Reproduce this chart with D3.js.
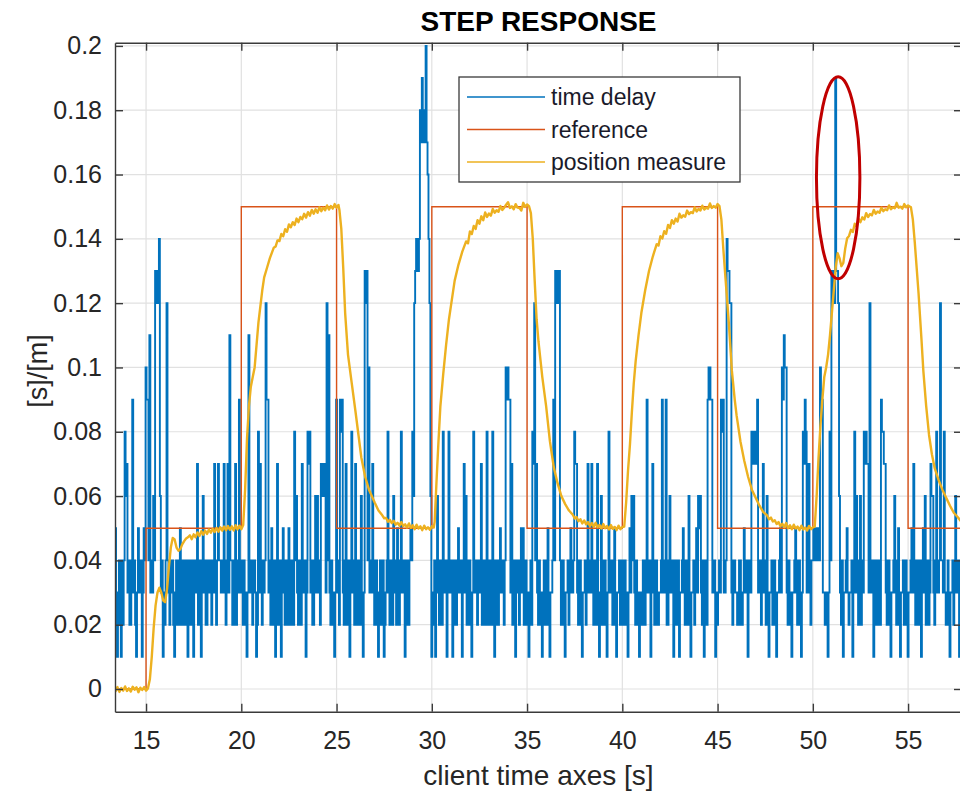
<!DOCTYPE html>
<html>
<head>
<meta charset="utf-8">
<script src="https://cdn.jsdelivr.net/npm/d3@7"></script>
<style>
  body { margin: 0; background: #fff; }
  text { font-family: "Liberation Sans", Arial, sans-serif; }
</style>
</head>
<body>
<svg id="chart" width="960" height="796"></svg>
<script>
// ---- data ----
const xTicks = [15, 20, 25, 30, 35, 40, 45, 50, 55];
const yTicks = [0, 0.02, 0.04, 0.06, 0.08, 0.1, 0.12, 0.14, 0.16, 0.18, 0.2];

// time delay, sampled every 0.05 s from 13.3 s, in hundredths of a second
// (one row per second of client time)
const delayStart = 13.3;
const delayStep = 0.05;
const delayCs = [
  4,3,5,2,1,3,4,2,1,4,2,4,8,6,
  7,3,4,2,2,4,9,3,4,2,1,3,5,4,3,4,1,3,5,4,
  10,9,9,4,11,3,4,3,6,4,13,12,13,12,14,6,3,4,1,3,
  2,4,12,4,3,2,4,3,4,2,1,3,4,2,2,4,5,2,3,4,
  2,3,4,2,1,4,3,2,4,4,1,3,4,3,7,2,3,4,1,3,
  6,3,4,2,2,4,4,3,4,2,3,4,7,3,2,4,7,4,4,3,
  3,4,7,3,2,4,7,3,11,4,4,2,2,4,7,2,3,4,9,3,
  4,3,2,4,3,2,1,3,11,4,3,4,2,4,4,3,1,2,8,3,
  7,3,2,4,3,4,12,9,9,3,4,2,5,2,2,4,1,3,7,2,
  3,4,1,3,5,3,2,4,3,2,5,2,2,4,3,2,8,4,6,3,
  2,4,4,2,7,3,3,4,1,3,8,7,8,3,4,2,2,4,6,3,
  6,3,4,2,7,6,6,7,7,3,12,4,11,3,2,4,3,2,1,3,
  9,3,4,2,9,8,9,3,2,4,7,2,3,4,1,3,8,3,4,2,
  7,3,2,4,4,2,6,3,1,3,13,12,13,4,10,3,3,4,7,3,
  2,4,4,2,1,3,4,2,2,4,1,2,3,4,8,3,2,4,4,2,
  6,3,4,2,5,3,2,4,8,3,3,4,1,3,4,2,2,4,5,4,
  8,6,12,13,14,13,13,14,18,17,19,18,17,18,20,17,16,14,12,6,
  1,2,3,4,1,3,6,3,2,4,4,2,8,3,3,4,1,3,8,4,
  3,4,1,3,4,2,2,4,5,3,3,4,1,3,7,3,6,2,2,4,
  4,2,1,3,8,3,3,4,2,3,4,3,7,2,2,4,3,2,8,3,
  2,4,3,2,8,4,1,3,4,2,2,4,5,3,3,4,2,4,10,9,
  10,9,9,3,7,2,3,4,1,3,4,3,2,4,5,3,5,2,2,4,
  3,2,1,3,4,2,8,7,12,4,7,3,2,4,3,2,1,3,4,2,
  2,4,5,2,1,3,3,4,9,4,13,12,12,13,13,4,2,3,4,2,
  1,3,3,4,2,3,5,3,3,4,8,7,7,3,2,4,4,2,1,3,
  3,4,2,3,7,3,3,4,7,3,2,4,4,2,7,3,1,3,6,2,
  2,4,4,2,1,3,8,3,3,4,2,3,5,2,1,3,3,4,2,3,
  4,2,2,4,3,2,1,3,5,3,6,4,6,3,2,4,3,2,1,3,
  3,2,4,3,2,4,9,3,3,4,1,3,7,3,2,4,4,2,2,3,
  3,4,9,3,4,3,9,2,2,4,6,3,3,4,1,3,4,2,2,4,
  1,3,3,4,5,3,2,4,4,2,6,3,1,3,3,4,2,3,5,3,
  6,5,6,3,2,4,1,3,4,2,9,10,10,9,9,3,3,4,1,3,
  2,3,4,3,9,8,9,3,3,4,14,13,13,12,12,3,2,4,4,3,
  3,2,2,4,4,2,2,3,5,3,3,4,1,3,4,3,8,7,7,8,
  8,7,9,3,3,4,2,3,7,3,4,2,6,3,1,3,3,4,2,3,
  4,2,1,3,3,4,5,3,10,9,11,10,10,3,2,4,3,2,1,3,
  3,4,5,3,2,4,4,2,1,3,8,7,9,8,3,4,7,3,2,4,
  4,5,5,4,4,5,5,4,10,9,9,3,3,2,2,3,1,3,8,4,
  13,12,13,12,19,13,13,12,6,3,2,4,1,3,3,4,5,3,2,3,
  3,4,1,3,8,3,6,3,2,4,6,2,4,3,8,7,8,7,7,3,
  12,3,3,4,1,3,4,2,2,4,3,2,9,8,8,7,7,3,2,4,
  4,2,1,3,3,4,6,3,2,4,5,2,1,3,3,4,2,3,4,2,
  1,3,3,4,5,3,7,3,2,4,4,2,3,4,1,3,5,3,6,2,
  3,4,2,3,7,6,6,3,2,4,8,3,3,4,12,4,4,3,8,3,
  2,3,4,2,1,3,3,4,2,3,6,3,3,4,1,3,4,2,2,3
];

// reference set-point: level held from each edge to the next
const refEdges  = [13.3, 15, 20, 25, 30, 35, 40, 45, 50, 55, 58];
const refLevels = [0, 0.05, 0.15, 0.05, 0.15, 0.05, 0.15, 0.05, 0.15, 0.05, 0.05];

// measured position [time s, value m]
const position = [
  [13.3,0.0004],[13.4,-0.0007],[13.5,0.0006],[13.6,-0.0009],[13.7,0.0003],[13.8,-0.0005],[13.9,0.0008],
  [14.0,-0.0006],[14.1,0.0002],[14.2,-0.0008],[14.3,0.0007],[14.4,-0.0002],[14.5,0.0005],[14.6,-0.0010],
  [14.7,0.0004],[14.8,-0.0003],[14.9,0.0006],[15.0,-0.0005],[15.1,0.0002],
  [15.2,0.003],[15.3,0.010],[15.4,0.019],[15.5,0.026],[15.6,0.030],[15.7,0.0315],[15.8,0.030],
  [15.9,0.0275],[16.0,0.027],[16.1,0.031],[16.2,0.038],[16.3,0.044],[16.4,0.047],[16.5,0.0465],
  [16.6,0.044],[16.7,0.043],[16.8,0.0435],[16.9,0.045],[17.0,0.046],[17.1,0.0468],[17.2,0.0472],
  [17.3,0.0478],[17.4,0.0466],[17.5,0.0481],[17.6,0.0472],[17.7,0.0487],[17.8,0.0476],[17.9,0.0491],
  [18.0,0.0480],[18.1,0.0493],[18.2,0.0482],[18.3,0.0496],[18.4,0.0486],[18.5,0.0498],[18.6,0.0488],
  [18.7,0.0501],[18.8,0.0489],[18.9,0.0503],[19.0,0.0492],[19.1,0.0505],[19.2,0.0494],[19.3,0.0507],
  [19.4,0.0495],[19.5,0.0506],[19.6,0.0493],[19.7,0.0509],[19.8,0.0496],[19.9,0.0508],[20.0,0.0497],
  [20.1,0.0510],
  [20.2,0.062],[20.3,0.078],[20.4,0.088],[20.5,0.094],[20.6,0.097],[20.7,0.100],[20.8,0.107],
  [20.9,0.114],[21.0,0.119],[21.1,0.124],[21.2,0.128],[21.35,0.131],[21.5,0.134],
  [21.7,0.1372],[21.8,0.1376],[21.9,0.1395],[22.0,0.1393],[22.1,0.1415],[22.2,0.1408],[22.3,0.1430],
  [22.4,0.1422],[22.5,0.1445],[22.6,0.1436],[22.7,0.1452],[22.8,0.1443],[22.9,0.1463],[23.0,0.1452],
  [23.1,0.1468],[23.2,0.1461],[23.3,0.1478],[23.4,0.1466],[23.5,0.1483],[23.6,0.1472],[23.7,0.1490],
  [23.8,0.1478],[23.9,0.1492],[24.0,0.1481],[24.1,0.1498],[24.2,0.1486],[24.3,0.1497],[24.4,0.1489],
  [24.5,0.1504],[24.6,0.1491],[24.7,0.1502],[24.8,0.1494],[24.9,0.1508],[25.0,0.1497],[25.1,0.1505],
  [25.15,0.149],[25.25,0.143],[25.35,0.131],[25.45,0.117],[25.6,0.104],[25.8,0.095],[26.0,0.086],
  [26.15,0.079],[26.3,0.072],[26.5,0.066],[26.7,0.062],[26.85,0.060],[27.0,0.058],[27.2,0.0555],
  [27.4,0.0540],[27.5,0.0531],[27.6,0.0532],[27.7,0.0520],[27.8,0.0526],[27.9,0.0516],[28.0,0.0523],
  [28.1,0.0511],[28.2,0.0517],[28.3,0.0508],[28.4,0.0519],[28.5,0.0507],[28.6,0.0512],[28.7,0.0502],
  [28.8,0.0515],[28.9,0.0501],[29.0,0.0509],[29.1,0.0497],[29.2,0.0511],[29.3,0.0499],[29.4,0.0506],
  [29.5,0.0494],[29.6,0.0508],[29.7,0.0497],[29.8,0.0503],[29.9,0.0495],[30.0,0.0506],[30.1,0.0502],
  [30.15,0.052],[30.25,0.065],[30.35,0.077],[30.45,0.088],[30.6,0.098],[30.75,0.107],[30.9,0.115],
  [31.05,0.121],[31.2,0.127],[31.4,0.132],[31.6,0.136],
  [31.8,0.1392],[31.9,0.1386],[32.0,0.1423],[32.1,0.1415],[32.2,0.1440],[32.3,0.1431],[32.4,0.1458],
  [32.5,0.1447],[32.6,0.1470],[32.7,0.1458],[32.8,0.1482],[32.9,0.1468],[33.0,0.1479],[33.1,0.1472],
  [33.2,0.1493],[33.3,0.1481],[33.4,0.1489],[33.5,0.1484],[33.6,0.1502],[33.7,0.1490],[33.8,0.1497],
  [33.9,0.1506],[34.0,0.1514],[34.1,0.1496],[34.2,0.1501],[34.3,0.1492],[34.4,0.1508],[34.5,0.1497],
  [34.6,0.1496],[34.7,0.1488],[34.8,0.1512],[34.9,0.1499],[35.0,0.1507],[35.1,0.1502],
  [35.2,0.148],[35.3,0.140],[35.4,0.127],[35.5,0.115],[35.6,0.108],[35.8,0.097],[36.0,0.088],
  [36.2,0.077],[36.4,0.069],[36.6,0.064],[36.8,0.060],[37.0,0.0575],[37.2,0.0555],
  [37.4,0.0542],[37.5,0.0530],[37.6,0.0535],[37.7,0.0522],[37.8,0.0528],[37.9,0.0515],[38.0,0.0524],
  [38.1,0.0512],[38.2,0.0519],[38.3,0.0507],[38.4,0.0516],[38.5,0.0504],[38.6,0.0517],[38.7,0.0503],
  [38.8,0.0510],[38.9,0.0499],[39.0,0.0513],[39.1,0.0500],[39.2,0.0507],[39.3,0.0496],[39.4,0.0510],
  [39.5,0.0498],[39.6,0.0504],[39.7,0.0494],[39.8,0.0508],[39.9,0.0497],[40.0,0.0504],[40.1,0.0505],
  [40.2,0.058],[40.3,0.068],[40.4,0.076],[40.5,0.086],[40.6,0.095],[40.7,0.102],[40.85,0.110],
  [41.0,0.117],[41.2,0.124],[41.4,0.130],[41.6,0.1345],
  [41.8,0.1383],[41.9,0.1379],[42.0,0.1408],[42.1,0.1401],[42.2,0.1424],[42.3,0.1416],[42.4,0.1443],
  [42.5,0.1434],[42.6,0.1458],[42.7,0.1447],[42.8,0.1463],[42.9,0.1454],[43.0,0.1478],[43.1,0.1466],
  [43.2,0.1473],[43.3,0.1469],[43.4,0.1488],[43.5,0.1477],[43.6,0.1483],[43.7,0.1480],[43.8,0.1498],
  [43.9,0.1485],[44.0,0.1493],[44.1,0.1488],[44.2,0.1503],[44.3,0.1491],[44.4,0.1497],[44.5,0.1494],
  [44.6,0.1510],[44.7,0.1496],[44.8,0.1502],[44.9,0.1497],[45.0,0.1508],[45.1,0.1502],
  [45.2,0.146],[45.3,0.137],[45.4,0.129],[45.5,0.121],[45.6,0.113],[45.75,0.099],[45.9,0.090],
  [46.0,0.085],[46.2,0.077],[46.4,0.071],[46.6,0.066],[46.8,0.062],[47.0,0.0595],[47.2,0.057],
  [47.4,0.055],
  [47.6,0.0540],[47.7,0.0528],[47.8,0.0533],[47.9,0.0521],[48.0,0.0525],[48.1,0.0513],[48.2,0.0519],
  [48.3,0.0506],[48.4,0.0514],[48.5,0.0503],[48.6,0.0516],[48.7,0.0500],[48.8,0.0509],[48.9,0.0497],
  [49.0,0.0511],[49.1,0.0499],[49.2,0.0505],[49.3,0.0494],[49.4,0.0508],[49.5,0.0496],[49.6,0.0502],
  [49.7,0.0493],[49.8,0.0507],[49.9,0.0497],[50.0,0.0503],[50.1,0.0505],
  [50.2,0.060],[50.3,0.072],[50.4,0.082],[50.5,0.090],[50.6,0.097],[50.7,0.100],[50.8,0.104],
  [50.9,0.110],[51.0,0.117],[51.1,0.124],[51.2,0.131],[51.3,0.1355],[51.4,0.134],[51.5,0.1315],
  [51.6,0.1325],[51.7,0.137],
  [51.8,0.1402],[51.9,0.1409],[52.0,0.1428],[52.1,0.1421],[52.2,0.1447],[52.3,0.1438],[52.4,0.1462],
  [52.5,0.1452],[52.6,0.1467],[52.7,0.1460],[52.8,0.1480],[52.9,0.1468],[53.0,0.1477],[53.1,0.1473],
  [53.2,0.1490],[53.3,0.1478],[53.4,0.1485],[53.5,0.1481],[53.6,0.1497],[53.7,0.1486],[53.8,0.1492],
  [53.9,0.1489],[54.0,0.1504],[54.1,0.1492],[54.2,0.1498],[54.3,0.1495],[54.4,0.1512],[54.5,0.1497],
  [54.6,0.1500],[54.7,0.1494],[54.8,0.1508],[54.9,0.1498],[55.0,0.1504],[55.1,0.1500],[55.15,0.1498],
  [55.25,0.146],[55.35,0.139],[55.45,0.131],[55.55,0.123],[55.7,0.109],[55.8,0.099],[55.95,0.088],
  [56.1,0.079],[56.25,0.073],[56.4,0.0686],[56.6,0.065],[56.8,0.062],[57.0,0.0595],[57.2,0.057],
  [57.4,0.0548],[57.6,0.0535],[57.8,0.052],[58.0,0.0512]
];

const seriesNames = ["time delay", "reference", "position measure"];
// highlighted region around the delay spike (data units)
const highlight = { t: 51.33, v: 0.159, dt: 1.14, dv: 0.0314 };

// ---- layout & scales ----
const colors = ["#0072BD", "#D95319", "#EDB120"];
const axisColor = "#3a3a3a";
const textColor = "#262626";
const L = 115, R = 962, T = 42.7, B = 711.7;

const x = d3.scaleLinear().domain([13.37, 57.83]).range([L, R]);
const y = d3.scaleLinear().domain([-0.00706, 0.201]).range([B, T]);

const svg = d3.select("#chart");

svg.append("defs").append("clipPath").attr("id", "plotClip")
  .append("rect").attr("x", L).attr("y", T).attr("width", R - L).attr("height", B - T);

// grid
const grid = svg.append("g").attr("stroke", "#e1e1e1").attr("stroke-width", 1.2);
grid.selectAll("line.gx").data(xTicks).join("line")
  .attr("x1", d => x(d)).attr("x2", d => x(d)).attr("y1", T).attr("y2", B);
grid.selectAll("line.gy").data(yTicks).join("line")
  .attr("x1", L).attr("x2", R).attr("y1", d => y(d)).attr("y2", d => y(d));

// series
const plot = svg.append("g").attr("clip-path", "url(#plotClip)");

const delayPts = delayCs.map((c, i) => [delayStart + i * delayStep, c / 100]);
plot.append("path").datum(delayPts)
  .attr("fill", "none").attr("stroke", colors[0]).attr("stroke-width", 1.9)
  .attr("d", d3.line().curve(d3.curveStep).x(d => x(d[0])).y(d => y(d[1])));

const refPts = refEdges.map((t, i) => [t, refLevels[i]]);
plot.append("path").datum(refPts)
  .attr("fill", "none").attr("stroke", colors[1]).attr("stroke-width", 1.4)
  .attr("d", d3.line().curve(d3.curveStepAfter).x(d => x(d[0])).y(d => y(d[1])));

plot.append("path").datum(position)
  .attr("fill", "none").attr("stroke", colors[2]).attr("stroke-width", 2.4)
  .attr("stroke-linejoin", "round")
  .attr("d", d3.line().x(d => x(d[0])).y(d => y(d[1])));

// axes (ticks inward on all four sides)
function styleAxis(g) {
  g.select(".domain").attr("stroke", axisColor).attr("stroke-width", 1.4);
  g.selectAll(".tick line").attr("stroke", axisColor).attr("stroke-width", 1.4);
  g.selectAll(".tick text").attr("fill", textColor).attr("font-size", 25)
    .attr("font-family", "'Liberation Sans', Arial, sans-serif");
}
svg.append("g").attr("transform", `translate(0,${B})`)
  .call(d3.axisBottom(x).tickValues(xTicks).tickFormat(d3.format("d"))
    .tickSizeInner(-8).tickSizeOuter(0).tickPadding(20))
  .call(styleAxis);
svg.append("g").attr("transform", `translate(0,${T})`)
  .call(d3.axisTop(x).tickValues(xTicks).tickFormat("").tickSizeInner(-8).tickSizeOuter(0))
  .call(styleAxis);
svg.append("g").attr("transform", `translate(${L},0)`)
  .call(d3.axisLeft(y).tickValues(yTicks).tickFormat(d => d3.format("~g")(d))
    .tickSizeInner(-8).tickSizeOuter(0).tickPadding(13))
  .call(styleAxis);
svg.append("g").attr("transform", `translate(${R},0)`)
  .call(d3.axisRight(y).tickValues(yTicks).tickFormat("").tickSizeInner(-8).tickSizeOuter(0))
  .call(styleAxis);

// labels
svg.append("text").attr("x", (L + R) / 2).attr("y", 31).attr("text-anchor", "middle")
  .attr("font-size", 28).attr("font-weight", "bold").attr("fill", "#000")
  .text("STEP RESPONSE");
svg.append("text").attr("x", (L + R) / 2).attr("y", 785).attr("text-anchor", "middle")
  .attr("font-size", 28).attr("fill", textColor)
  .text("client time axes [s]");
svg.append("text").attr("transform", "translate(47,371) rotate(-90)")
  .attr("text-anchor", "middle").attr("font-size", 27).attr("fill", textColor)
  .text("[s]/[m]");

// legend
const lg = svg.append("g").attr("transform", "translate(459,77)");
lg.append("rect").attr("width", 281).attr("height", 105)
  .attr("fill", "#fff").attr("stroke", axisColor).attr("stroke-width", 1.3);
seriesNames.forEach((name, i) => {
  const yy = 20 + i * 32.5;
  lg.append("line").attr("x1", 8).attr("x2", 86).attr("y1", yy).attr("y2", yy)
    .attr("stroke", colors[i]).attr("stroke-width", 1.6);
  lg.append("text").attr("x", 92).attr("y", yy).attr("dy", "0.35em")
    .attr("font-size", 23).attr("fill", "#1a1a2a").text(name);
});

// highlight ellipse
svg.append("ellipse")
  .attr("cx", x(highlight.t)).attr("cy", y(highlight.v))
  .attr("rx", x(highlight.t + highlight.dt) - x(highlight.t))
  .attr("ry", y(highlight.v - highlight.dv) - y(highlight.v))
  .attr("fill", "none").attr("stroke", "#c00000").attr("stroke-width", 3);
</script>
</body>
</html>
